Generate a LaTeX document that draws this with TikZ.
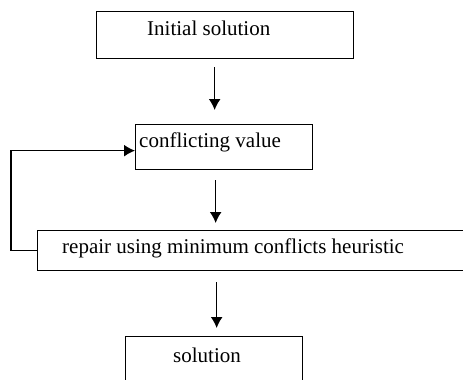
\documentclass[tikz,border=0pt]{standalone}
\usepackage{fontspec}
\setmainfont{Liberation Serif}
\usetikzlibrary{arrows.meta,calc}
\begin{document}
\begin{tikzpicture}[x=1pt,y=-1pt,
  box/.style={draw,line width=1.3pt,inner sep=0pt,anchor=north west},
  lbl/.style={anchor=base west,inner sep=0pt,font=\fontsize{21}{24}\selectfont},
  arr/.style={line width=1.3pt,-{Latex[length=11pt,width=12pt]}}]
\useasboundingbox (0,0) rectangle (463,380);
\node[box,minimum width=257pt,minimum height=47pt] (b1) at (96,11) {};
\node[box,minimum width=177pt,minimum height=45pt] (b2) at (135,124) {};
\node[box,minimum width=440pt,minimum height=40pt] (b3) at (37,230) {};
\node[box,minimum width=177pt,minimum height=60pt] (b4) at (125,336) {};
\node[lbl] (t1) at (147,35) {Initial solution};
\node[lbl] (t2) at (139,147) {conflicting value};
\node[lbl] (t3) at (62,253) {repair using minimum conflicts heuristic};
\node[lbl] (t4) at (173,362) {solution};
\draw[arr] ($(b1.south)+(-10.5,8)$) -- ($(b1.south |- b2.north)+(-10.5,-14)$);
\draw[arr] ($(b2.south)+(-8.5,10)$) -- ($(b2.south |- b3.north)+(-8.5,-7)$);
\draw[arr] ($(b4.north)+(2.5,-54)$) -- ($(b4.north)+(2.5,-8)$);
\draw[arr] (b3.west) -- ++(-26,0) |- ($(b2.west)+(0,3.5)$);
\end{tikzpicture}
\end{document}
